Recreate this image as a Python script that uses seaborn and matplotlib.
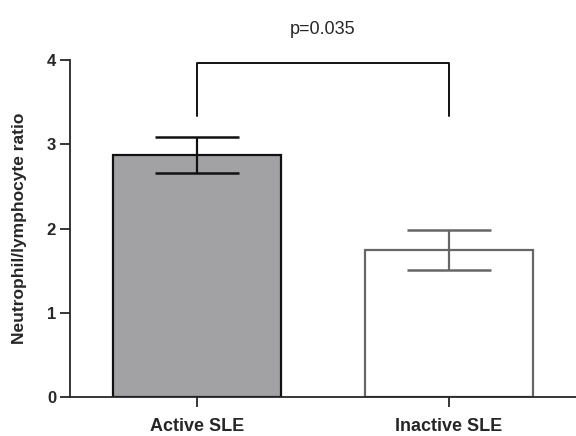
import pandas as pd
import matplotlib
matplotlib.use("Agg")
import matplotlib.pyplot as plt
import seaborn as sns

groups = ["Active SLE", "Inactive SLE"]
means = [2.87, 1.745]
sems = [0.215, 0.235]
fills = ["#a2a1a6", "#ffffff"]
edges = ["#111111", "#666666"]
p_text = "p=0.035"
bracket_y = 3.97
bracket_leg = 3.34

sns.set_style("ticks")
plt.rcParams["font.family"] = ["Liberation Sans", "DejaVu Sans"]

df = pd.DataFrame({"group": groups, "ratio": means})

fig = plt.figure(figsize=(5.76, 4.36), dpi=100)
ax = fig.add_axes([0.1215, 0.089, 0.8785, 0.773])

sns.barplot(data=df, x="group", y="ratio", hue="group", palette=fills,
            width=0.667, errorbar=None, legend=False, ax=ax)
for bar, ec in zip(ax.patches, edges):
    bar.set_edgecolor(ec)
    bar.set_linewidth(1.6)

for i, (m, s) in enumerate(zip(means, sems)):
    ax.errorbar(i, m, yerr=s, color=edges[i], capsize=30, capthick=1.8,
                elinewidth=1.6, zorder=5)

# significance bracket
ax.plot([0, 0, 1, 1], [bracket_leg, bracket_y, bracket_y, bracket_leg],
        color="#111111", lw=1.4, clip_on=False)
ax.text(0.5, 4.36, p_text, ha="center", va="center", fontsize=13)

ax.set_xlim(-0.504, 1.504)
ax.set_ylim(0, 4)
ax.set_yticks([0, 1, 2, 3, 4])
ax.set_xlabel("")
ax.set_ylabel("Neutrophil/lymphocyte ratio", fontsize=12.5, fontweight="bold",
              labelpad=14)
ax.tick_params(axis="y", length=7, width=1.3, labelsize=12, pad=3)
ax.tick_params(axis="x", length=7, width=1.3, labelsize=13, pad=8)
for lab in ax.get_xticklabels() + ax.get_yticklabels():
    lab.set_fontweight("bold")

sns.despine(ax=ax)
ax.spines["left"].set_linewidth(1.3)
ax.spines["bottom"].set_linewidth(1.3)

fig.savefig("out.png", dpi=100)
